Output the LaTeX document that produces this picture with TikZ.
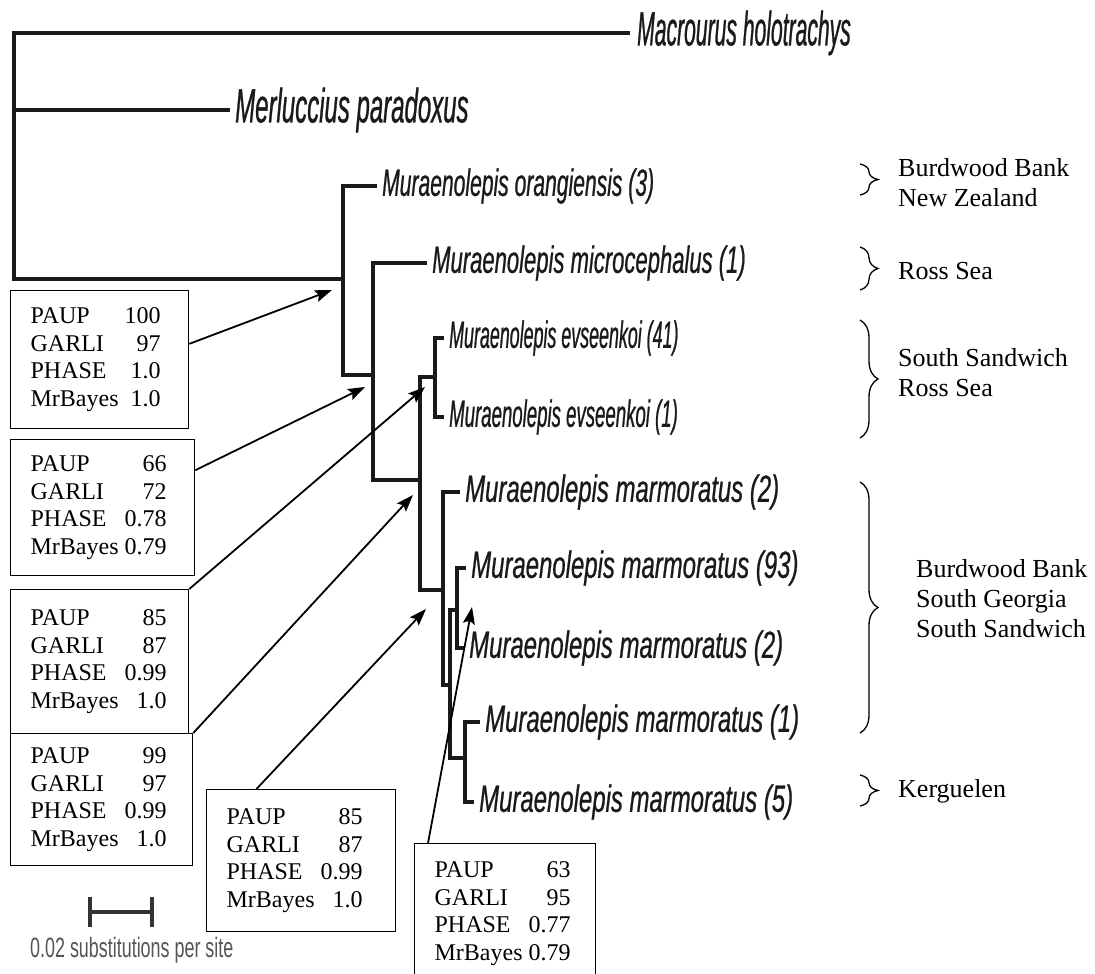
\documentclass[tikz,border=0pt]{standalone}
\usepackage{fontspec}
\setmainfont{Liberation Serif}
\newfontfamily\taxfont[FakeBold=0.6]{Liberation Sans}
\newfontfamily\barfont[FakeStretch=0.64]{Liberation Sans}
\usetikzlibrary{arrows.meta, positioning, calc, decorations.pathreplacing}
\definecolor{treeblack}{HTML}{1A1A1A}
\definecolor{bargray}{HTML}{555555}
\newcommand{\taxon}[3][38]{{\taxfont\fontsize{#1}{#1}\selectfont\itshape\addfontfeature{FakeStretch=#2}#3}}
\newcommand{\supp}[4]{\begin{tabular}{@{}l@{\hspace{6pt}}r@{}}PAUP & #1\\GARLI & #2\\PHASE & #3\\MrBayes & #4\end{tabular}}

\begin{document}
\begin{tikzpicture}[
    x=1pt, y=-1pt,
    node distance=7pt,
    branch/.style={line width=4.5pt, line cap=rect, treeblack},
    taxlabel/.style={inner sep=0pt, text=treeblack},
    supportbox/.style={draw, line width=1.3pt, anchor=north west, inner xsep=20pt, inner ysep=0pt, align=left, font=\fontsize{24}{27.6}\selectfont},
    pointer/.style={-{Stealth[length=17pt, width=12pt, inset=3pt]}, line width=1.8pt},
    region/.style={anchor=west, inner sep=0pt, align=left, font=\fontsize{26}{30}\selectfont},
    clade/.style={decorate, decoration={brace, amplitude=18pt}, line width=1.3pt},
    scalebar/.style={line width=4.5pt, color=black!80}
]
    \useasboundingbox (0,0) rectangle (1095,974);
    \fill[white] (0,0) rectangle (1095,974);

    \coordinate (root) at (14,279);
    \coordinate (nA) at (343,279);
    \coordinate (nB) at (373,375);
    \coordinate (nC) at (420,480);
    \coordinate (nD) at (435,377);
    \coordinate (nE) at (443,590);
    \coordinate (nF) at (450,685);
    \coordinate (nG) at (457,610);
    \coordinate (nH) at (465,758);

    \coordinate (tMac) at (628,33);
    \coordinate (tMer) at (228,110);
    \coordinate (tOra) at (375,186);
    \coordinate (tMic) at (425,263);
    \coordinate (tEv1) at (442,338);
    \coordinate (tEv2) at (442,417);
    \coordinate (tMa1) at (458,492);
    \coordinate (tMa2) at (464,568);
    \coordinate (tMa3) at (462,648);
    \coordinate (tMa4) at (478,722);
    \coordinate (tMa5) at (472,802);

    \draw[branch] (root) |- (tMac);
    \draw[branch] (root) |- (tMer);
    \draw[branch] (root) -- (nA);
    \draw[branch] (nA) |- (tOra);
    \draw[branch] (nA) |- (nB);
    \draw[branch] (nB) |- (tMic);
    \draw[branch] (nB) |- (nC);
    \draw[branch] (nC) |- (nD);
    \draw[branch] (nC) |- (nE);
    \draw[branch] (nD) |- (tEv1);
    \draw[branch] (nD) |- (tEv2);
    \draw[branch] (nE) |- (tMa1);
    \draw[branch] (nE) |- (nF);
    \draw[branch] (nF) |- (nG);
    \draw[branch] (nF) |- (nH);
    \draw[branch] (nG) |- (tMa2);
    \draw[branch] (nG) |- (tMa3);
    \draw[branch] (nH) |- (tMa4);
    \draw[branch] (nH) |- (tMa5);

    \node[taxlabel, right=9pt of tMac] (lMac) {\taxon[48]{0.44}{Macrourus holotrachys}};
    \node[taxlabel, right=of tMer] (lMer) {\taxon[48]{0.5}{Merluccius paradoxus}};
    \node[taxlabel, right=of tOra] (lOra) {\taxon{0.555}{Muraenolepis orangiensis (3)}};
    \node[taxlabel, right=of tMic] (lMic) {\taxon{0.58}{Muraenolepis microcephalus (1)}};
    \node[taxlabel, right=of tEv1] (lEv1) {\taxon{0.47}{Muraenolepis evseenkoi (41)}};
    \node[taxlabel, right=of tEv2] (lEv2) {\taxon{0.49}{Muraenolepis evseenkoi (1)}};
    \node[taxlabel, right=of tMa1] (lMa1) {\taxon{0.63}{Muraenolepis marmoratus (2)}};
    \node[taxlabel, right=of tMa2] (lMa2) {\taxon{0.63}{Muraenolepis marmoratus (93)}};
    \node[taxlabel, right=of tMa3] (lMa3) {\taxon{0.63}{Muraenolepis marmoratus (2)}};
    \node[taxlabel, right=of tMa4] (lMa4) {\taxon{0.63}{Muraenolepis marmoratus (1)}};
    \node[taxlabel, right=of tMa5] (lMa5) {\taxon{0.63}{Muraenolepis marmoratus (5)}};

    \draw[clade] (860,164) -- (860,195);
    \draw[clade] (860,247) -- (860,290);
    \draw[clade] (860,320) -- (860,438);
    \draw[clade] (860,482) -- (860,733);
    \draw[clade] (860,775) -- (860,806);

    \node[region] (rBNZ) at (898,183) {Burdwood Bank\\New Zealand};
    \node[region] (rRS) at (898,271) {Ross Sea};
    \node[region] (rSSRS) at (898,373) {South Sandwich\\Ross Sea};
    \node[region] (rBSS) at (916,599) {Burdwood Bank\\South Georgia\\South Sandwich};
    \node[region] (rKer) at (898,791) {Kerguelen};

    \node[supportbox, text width=138pt, minimum height=138pt] (b1) at (10,290) {\supp{100}{97}{1.0}{1.0}};
    \node[supportbox, text width=144pt, minimum height=136pt] (b2) at (10,439) {\supp{66}{72}{0.78}{0.79}};
    \node[supportbox, text width=138pt, minimum height=144pt] (b3) at (10,589) {\supp{85}{87}{0.99}{1.0}};
    \node[supportbox, text width=142pt, minimum height=132pt] (b4) at (10,733) {\supp{99}{97}{0.99}{1.0}};
    \node[supportbox, text width=149pt, minimum height=142pt] (b5) at (206,789) {\supp{85}{87}{0.99}{1.0}};
    \node[supportbox, text width=141pt, minimum height=140pt] (b6) at (414,843) {\supp{63}{95}{0.77}{0.79}};

    \coordinate (t1) at (332,290);
    \coordinate (t2) at (365,387);
    \coordinate (t3) at (425,387);
    \coordinate (t4) at (413,495);
    \coordinate (t5) at (426,609);
    \coordinate (t6) at (472,607);

    \draw[pointer] (b1.10) -- (t1);
    \draw[pointer] (b2.22) -- (t2);
    \draw[pointer] (b3.north east) -- (t3);
    \draw[pointer] (b4.north east) -- (t4);
    \draw[pointer] ($(b5.north west)!0.265!(b5.north east)$) -- (t5);
    \draw[pointer] ($(b6.north west)!0.077!(b6.north east)$) -- (t6);

    \coordinate (sbL) at (90,912);
    \coordinate (sbR) at (152,912);
    \draw[scalebar] (sbL) -- (sbR);
    \draw[scalebar, line width=3.5pt] ([yshift=15pt]sbL) -- ([yshift=-15pt]sbL);
    \draw[scalebar, line width=3.5pt] ([yshift=15pt]sbR) -- ([yshift=-15pt]sbR);
    \node[anchor=base west, inner sep=0pt, text=bargray, font=\barfont\fontsize{28}{28}\selectfont] (sbText) at (30,957) {0.02 substitutions per site};
\end{tikzpicture}
\end{document}
